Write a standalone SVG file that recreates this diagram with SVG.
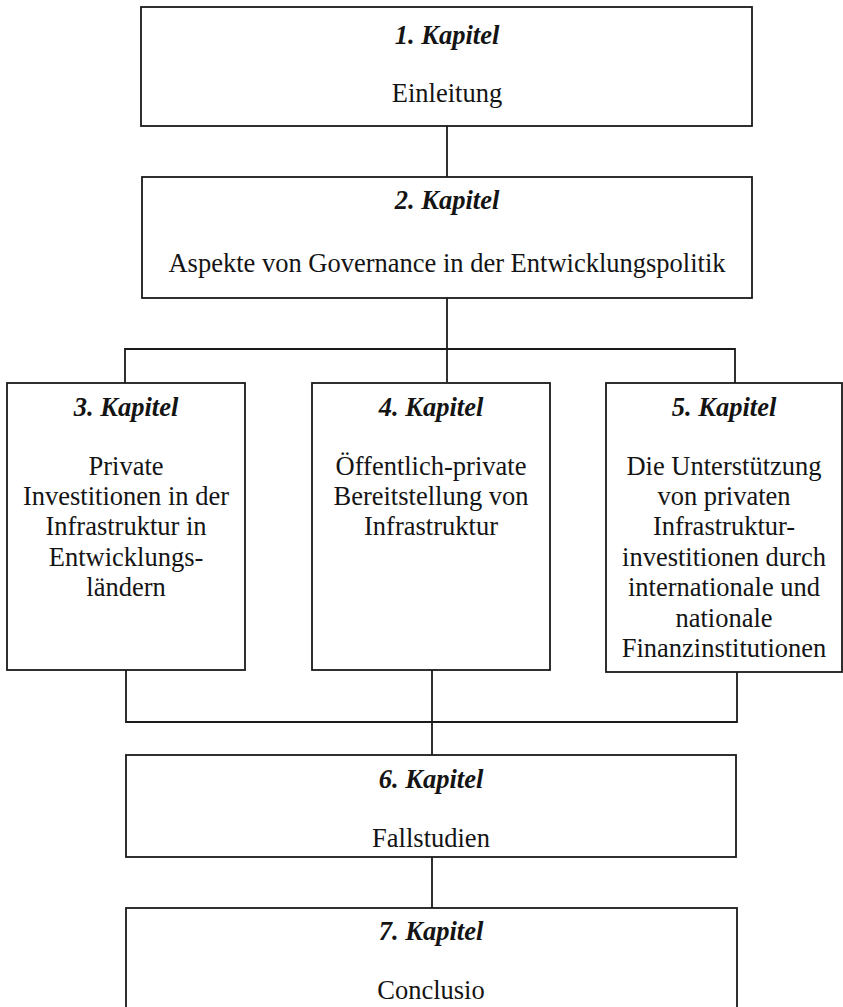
<svg xmlns="http://www.w3.org/2000/svg" width="843" height="1007" viewBox="0 0 843 1007">
<style>
.box{fill:#fff;stroke:#1a1a1a;stroke-width:1.8}
.con{fill:none;stroke:#1a1a1a;stroke-width:1.8}
.h{font-family:"Liberation Serif","Times New Roman",serif;font-size:26.5px;font-weight:bold;font-style:italic;fill:#141414;text-anchor:middle}
.t{font-family:"Liberation Serif","Times New Roman",serif;font-size:26.5px;fill:#141414;text-anchor:middle}
</style>
<rect width="843" height="1007" fill="#fff"/>
<g id="connectors">
<path class="con" d="M447 126V177"/>
<path class="con" d="M447 298V382"/>
<path class="con" d="M125 383V349H735V383"/>
<path class="con" d="M126 670V722H737V672"/>
<path class="con" d="M432 670V755"/>
<path class="con" d="M432 857V908"/>
</g>
<g id="k1">
<rect class="box" x="141" y="7" width="611" height="119"/>
<text class="h" x="447" y="44">1. Kapitel</text>
<text class="t" x="447" y="102">Einleitung</text>
</g>
<g id="k2">
<rect class="box" x="142" y="177" width="610" height="121"/>
<text class="h" x="447" y="209">2. Kapitel</text>
<text class="t" x="447" y="272">Aspekte von Governance in der Entwicklungspolitik</text>
</g>
<g id="k3">
<rect class="box" x="7" y="383" width="238" height="287"/>
<text class="h" x="126" y="416">3. Kapitel</text>
<text class="t" x="126" y="475">Private</text>
<text class="t" x="126" y="505">Investitionen in der</text>
<text class="t" x="126" y="535">Infrastruktur in</text>
<text class="t" x="126" y="566">Entwicklungs-</text>
<text class="t" x="126" y="596">ländern</text>
</g>
<g id="k4">
<rect class="box" x="312" y="383" width="238" height="287"/>
<text class="h" x="431" y="416">4. Kapitel</text>
<text class="t" x="431" y="475">Öffentlich-private</text>
<text class="t" x="431" y="505">Bereitstellung von</text>
<text class="t" x="431" y="535">Infrastruktur</text>
</g>
<g id="k5">
<rect class="box" x="606" y="383" width="236" height="289"/>
<text class="h" x="724" y="416">5. Kapitel</text>
<text class="t" x="724" y="475">Die Unterstützung</text>
<text class="t" x="724" y="505">von privaten</text>
<text class="t" x="724" y="535">Infrastruktur-</text>
<text class="t" x="724" y="566">investitionen durch</text>
<text class="t" x="724" y="596">internationale und</text>
<text class="t" x="724" y="627">nationale</text>
<text class="t" x="724" y="657">Finanzinstitutionen</text>
</g>
<g id="k6">
<rect class="box" x="126" y="755" width="610" height="102"/>
<text class="h" x="431" y="788">6. Kapitel</text>
<text class="t" x="431" y="847">Fallstudien</text>
</g>
<g id="k7">
<rect class="box" x="126" y="908" width="611" height="110"/>
<text class="h" x="431" y="940">7. Kapitel</text>
<text class="t" x="431" y="999">Conclusio</text>
</g>
</svg>
